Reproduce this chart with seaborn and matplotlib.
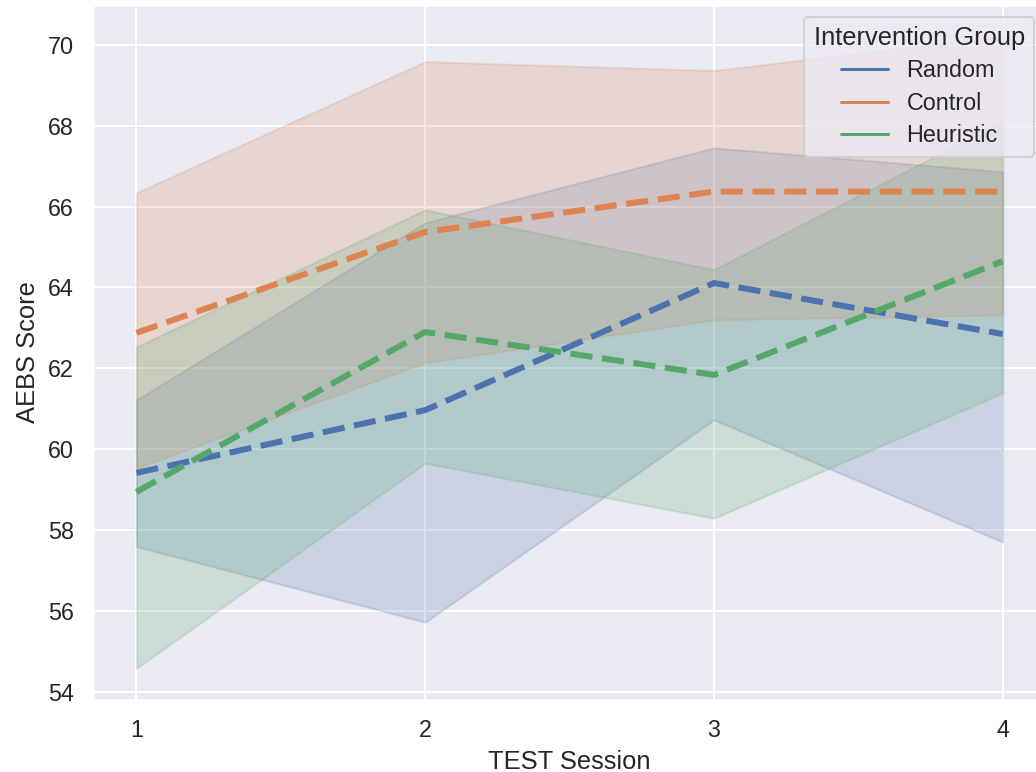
import matplotlib
matplotlib.use("Agg")
import matplotlib.pyplot as plt
import seaborn as sns
import pandas as pd

# Session numbers and group names
sessions = [1, 2, 3, 4]
groups = ["Random", "Control", "Heuristic"]

# Mean AEBS score per session for each group
random_mean = [59.42, 60.97, 64.11, 62.85]
control_mean = [62.88, 65.37, 66.37, 66.37]
heuristic_mean = [58.95, 62.90, 61.84, 64.65]

# Confidence band limits per session for each group
random_lo = [57.60, 55.73, 60.73, 57.71]
random_hi = [61.22, 65.60, 67.45, 66.86]
control_lo = [59.54, 62.14, 63.20, 63.32]
control_hi = [66.34, 69.58, 69.36, 70.20]
heuristic_lo = [54.59, 59.66, 58.30, 61.39]
heuristic_hi = [62.53, 65.92, 64.44, 68.10]

means = {"Random": random_mean, "Control": control_mean, "Heuristic": heuristic_mean}
bands = {
    "Random": (random_lo, random_hi),
    "Control": (control_lo, control_hi),
    "Heuristic": (heuristic_lo, heuristic_hi),
}

df = pd.DataFrame(
    [(s, g, v) for g in groups for s, v in zip(sessions, means[g])],
    columns=["session", "group", "score"],
)

sns.set_theme(style="darkgrid", font_scale=1.065)
plt.rcParams["font.family"] = ["Liberation Sans", "DejaVu Sans"]

fig = plt.figure(figsize=(1036 / 144, 772 / 144), dpi=144)
ax = fig.add_axes([0.0898, 0.0933, 0.9199, 0.9003])

palette = dict(zip(groups, sns.color_palette("deep", 3)))

sns.lineplot(
    data=df, x="session", y="score", hue="group", hue_order=groups,
    palette=palette, errorbar=None, ax=ax,
)

# legend built first so its handles keep the plain solid style
ax.legend(title="Intervention Group", loc="upper right", labelspacing=0.4)

# dashed, heavier mean lines
for line in ax.lines:
    line.set_linestyle("--")
    line.set_linewidth(3)

for g in groups:
    lo, hi = bands[g]
    ax.fill_between(sessions, lo, hi, color=palette[g], alpha=0.2)

ax.set_xticks(sessions)
ax.set_xlabel("TEST Session")
ax.set_ylabel("AEBS Score")

fig.savefig("out.png", dpi=144)
